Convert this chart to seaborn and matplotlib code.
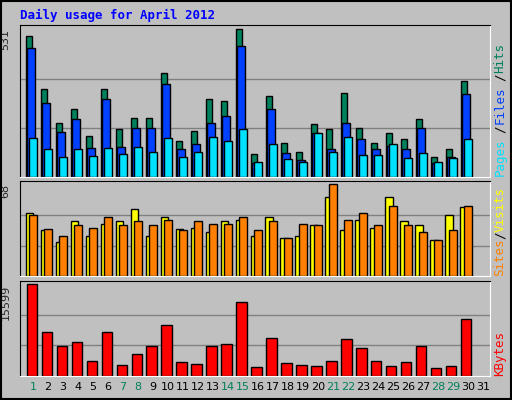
import numpy as np
import pandas as pd
import matplotlib
matplotlib.use("Agg")
import matplotlib.pyplot as plt
import seaborn as sns

# Daily data (day 31 has no data)
days = np.arange(1, 32)
hits = [509, 318, 196, 246, 149, 318, 174, 214, 214, 376, 131, 167, 279, 275, 531,
        84, 290, 124, 91, 192, 171, 304, 178, 124, 160, 138, 207, 73, 99, 347, np.nan]
files = [466, 268, 163, 207, 106, 282, 109, 178, 178, 336, 102, 117, 196, 221, 473,
         52, 246, 88, 62, 160, 102, 196, 135, 102, 113, 102, 178, 52, 73, 297, np.nan]
pages = [142, 102, 73, 99, 77, 106, 84, 109, 91, 142, 73, 91, 145, 131, 174,
         55, 117, 66, 55, 160, 91, 145, 80, 80, 117, 70, 88, 55, 70, 138, np.nan]
sites = [47, 34, 25, 41, 30, 39, 41, 50, 30, 44, 35, 36, 33, 41, 42,
         30, 44, 28, 30, 38, 59, 34, 42, 36, 59, 41, 38, 27, 45, 51, np.nan]
visits = [45, 35, 30, 38, 36, 44, 38, 41, 38, 42, 34, 41, 39, 39, 44,
          34, 41, 28, 39, 38, 68, 42, 47, 38, 52, 38, 33, 27, 34, 52, np.nan]
kbytes = [15599, 7400, 5010, 5693, 2448, 7400, 1765, 3643, 5010, 8596, 2277, 1936, 5010, 5351, 12525,
          1423, 6376, 2106, 1765, 1594, 2448, 6205, 4668, 2448, 1594, 2277, 5010, 1252, 1594, 9621, np.nan]
weekend = [1, 7, 8, 14, 15, 21, 22, 28, 29]

sns.set_style("white")
plt.rcParams['font.family'] = ['DejaVu Sans Mono']

W, H = 512, 400
fig = plt.figure(figsize=(W / 100, H / 100), dpi=100, facecolor="#C0C0C0")
GRAY = "#C0C0C0"
green, blue, cyan = "#00805C", "#0040FF", "#00E0FF"
yellow, orange, red = "#FFFF00", "#FF8000", "#FF0000"


def panel(y0, y1):
    ax = fig.add_axes([20 / W, 1 - y1 / H, 470 / W, (y1 - y0) / H])
    ax.set_facecolor(GRAY)
    return ax


def bars(ax, vals, off, width, color):
    d = pd.DataFrame({"x": days + off, "y": vals}).dropna()
    sns.barplot(data=d, x="x", y="y", native_scale=True, width=width,
                color=color, saturation=1, edgecolor="black", linewidth=1, ax=ax)


def style(ax, top, maxv, label):
    ax.set_xlim(0.13, 31.47)
    ax.set_ylim(0, top)
    for k in (1, 2):
        ax.axhline(maxv * k / 3, color="#808080", lw=1, zorder=0)
    ax.set_xticks([])
    ax.set_yticks([])
    ax.set_xlabel("")
    ax.set_ylabel("")
    for s in ("left", "top"):
        ax.spines[s].set_color("black")
    for s in ("right", "bottom"):
        ax.spines[s].set_color("white")
    ax.text(-0.02, 1 - (top - maxv) / top, label, transform=ax.transAxes, rotation=90,
            ha="right", va="top", fontsize=8, family="DejaVu Sans")


# Hits / Files / Pages
ax1 = panel(25, 177)
bars(ax1, hits, -0.27, 0.45, green)
bars(ax1, files, -0.13, 0.5, blue)
bars(ax1, pages, 0.0, 0.5, cyan)
style(ax1, 547, 531, "531")

# Sites / Visits
ax2 = panel(180.7, 276.3)
bars(ax2, sites, -0.25, 0.5, yellow)
bars(ax2, visits, 0.0, 0.5, orange)
style(ax2, 70.7, 68, "68")

# KBytes
ax3 = panel(281, 375.7)
bars(ax3, kbytes, -0.1, 0.67, red)
style(ax3, 16168, 15599, "15599")

# day labels
for d in days:
    ax3.text(d, -0.07, str(d), transform=ax3.get_xaxis_transform(), ha="center", va="top",
             fontsize=8, family="DejaVu Sans", color=green if d in weekend else "black")


# right-side legends, built bottom to top in pixel units
def side_label(y_bottom, parts, char_px=7.4):
    y = y_bottom
    for txt, col in parts:
        fig.text(500 / W, 1 - y / H, txt, rotation=90, ha="center", va="bottom",
                 fontsize=9, color=col)
        y -= len(txt) * char_px


side_label(176, [("Pages", cyan), ("/", "black"), ("Files", blue), ("/", "black"), ("Hits", green)],
           char_px=8.6)
side_label(276, [("Sites", orange), ("/", "black"), ("Visits", yellow)], char_px=7.4)
side_label(376, [("KBytes", red)])

fig.text(20 / W, 1 - 15 / H, "Daily usage for April 2012", color="#0000FF",
         fontsize=9, fontweight="bold", va="center", ha="left")

# outer frame
fig.patches.append(plt.Rectangle((0.002, 0.002), 0.996, 0.996, transform=fig.transFigure,
                                 fill=False, edgecolor="black", lw=1.5))
fig.savefig("out.png", dpi=100, facecolor=fig.get_facecolor())
